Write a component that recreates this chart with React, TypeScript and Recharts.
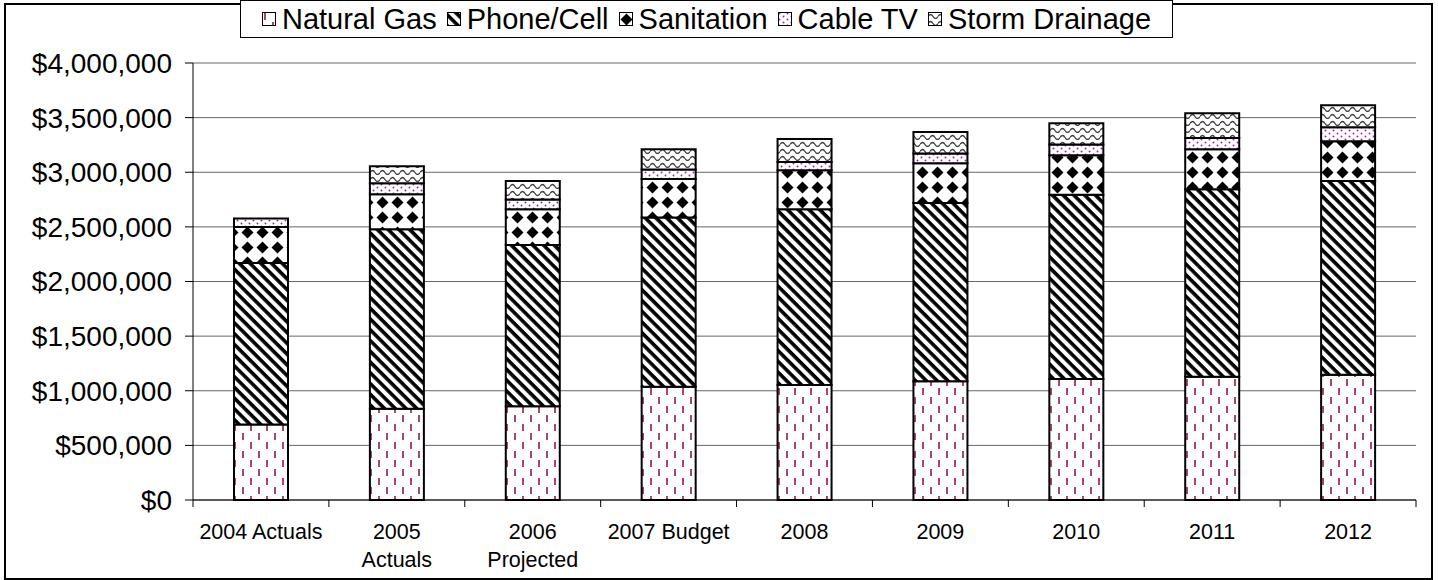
import React from 'react';
import { BarChart, Bar, XAxis, YAxis, CartesianGrid } from 'recharts';

// category labels ("\n" marks where the original label wraps)
const categories = [
  '2004 Actuals',
  '2005\nActuals',
  '2006\nProjected',
  '2007 Budget',
  '2008',
  '2009',
  '2010',
  '2011',
  '2012',
];

const naturalGas = [692000, 835000, 857000, 1036000, 1052000, 1088000, 1107000, 1128000, 1146000];
const phoneCell = [1478000, 1644000, 1478000, 1550000, 1610000, 1631000, 1686000, 1717000, 1775000];
const sanitation = [330000, 320000, 327000, 353000, 356000, 364000, 363000, 366000, 363000];
const cableTv = [77000, 101000, 88000, 86000, 76000, 88000, 97000, 103000, 128000];
const stormDrainage = [0, 155000, 171000, 186000, 211000, 198000, 195000, 226000, 201000];

const yTicks = [0, 500000, 1000000, 1500000, 2000000, 2500000, 3000000, 3500000, 4000000];

const seriesNames = ['Natural Gas', 'Phone/Cell', 'Sanitation', 'Cable TV', 'Storm Drainage'];
const seriesKeys = ['gas', 'phone', 'sanitation', 'cable', 'storm'];
const seriesFills = ['url(#pGas)', 'url(#pPhone)', 'url(#pSan)', 'url(#pCable)', 'url(#pStorm)'];

const data = categories.map((name, i) => ({
  name,
  gas: naturalGas[i],
  phone: phoneCell[i],
  sanitation: sanitation[i],
  cable: cableTv[i],
  storm: stormDrainage[i],
}));

const FONT = '"Liberation Sans", Arial, sans-serif';

const fmtMoney = (v: number) => '$' + v.toLocaleString('en-US');

const Patterns = () => (
  <defs>
    <pattern id="pGas" width={16} height={18} patternUnits="userSpaceOnUse">
      <rect width={16} height={18} fill="#fff" />
      <line x1={3} y1={1} x2={3} y2={8} stroke="#993366" strokeWidth={1.8} />
      <line x1={11} y1={10} x2={11} y2={17} stroke="#993366" strokeWidth={1.8} />
    </pattern>
    <pattern id="pPhone" width={7.6} height={7.6} patternUnits="userSpaceOnUse" patternTransform="rotate(45)">
      <rect width={7.6} height={7.6} fill="#fff" />
      <rect width={7.6} height={3.6} fill="#000" />
    </pattern>
    <pattern id="pSan" width={15} height={15} patternUnits="userSpaceOnUse">
      <rect width={15} height={15} fill="#fff" />
      <path d="M7.5 1.5 L13.5 7.5 L7.5 13.5 L1.5 7.5 Z" fill="#000" />
    </pattern>
    <pattern id="pCable" width={8} height={6} patternUnits="userSpaceOnUse">
      <rect width={8} height={6} fill="#fff" />
      <circle cx={1.5} cy={1.5} r={1} fill="#993399" />
      <circle cx={5.5} cy={4.5} r={1} fill="#993399" />
    </pattern>
    <pattern id="pStorm" width={10} height={7} patternUnits="userSpaceOnUse">
      <rect width={10} height={7} fill="#fff" />
      <path d="M0 4.5 Q2.5 0.5 5 4.5 T10 4.5" fill="none" stroke="#404040" strokeWidth={1.3} />
    </pattern>
  </defs>
);

const XTick = (props: any) => {
  const { x, y, payload, index } = props;
  const half = payload?.offset || 68;
  const lines = String(payload.value).split('\n');
  return (
    <g>
      <line x1={x - half} y1={y} x2={x - half} y2={y + 7} stroke="#000" strokeWidth={1} />
      {index === categories.length - 1 && (
        <line x1={x + half} y1={y} x2={x + half} y2={y + 7} stroke="#000" strokeWidth={1} />
      )}
      <text x={x} y={y} textAnchor="middle" fill="#000" fontSize={21.5} fontFamily={FONT}>
        {lines.map((l, i) => (
          <tspan key={i} x={x} dy={i === 0 ? 39 : 28}>
            {l}
          </tspan>
        ))}
      </text>
    </g>
  );
};

const LegendBox = () => (
  <div
    style={{
      position: 'absolute',
      left: 240,
      top: 0,
      width: 931,
      height: 36,
      border: '1px solid #000',
      background: '#fff',
      display: 'flex',
      alignItems: 'center',
      justifyContent: 'center',
      fontFamily: FONT,
      fontSize: 29,
      color: '#000',
      whiteSpace: 'nowrap',
    }}
  >
    {seriesNames.map((n, i) => (
      <span key={n} style={{ display: 'inline-flex', alignItems: 'center', marginRight: i < 4 ? 10 : 0 }}>
        <svg width={14} height={14} style={{ marginRight: 6 }}>
          <rect x={0.5} y={0.5} width={13} height={13} fill={seriesFills[i]} stroke="#000" strokeWidth={1} />
        </svg>
        {n}
      </span>
    ))}
  </div>
);

export default function App() {
  return (
    <div style={{ position: 'absolute', left: 0, top: 0, width: 1438, height: 580, background: '#fff' }}>
      <div
        style={{
          position: 'absolute',
          left: 4,
          top: 3,
          width: 1425,
          height: 573,
          border: '2px solid #000',
        }}
      />
      <BarChart
        width={1438}
        height={580}
        data={data}
        margin={{ top: 63, right: 22, bottom: 0, left: 0 }}
        barSize={54}
        style={{ position: 'absolute', left: 0, top: 0 }}
      >
        <Patterns />
        <CartesianGrid vertical={false} stroke="#666" strokeWidth={1} />
        <XAxis
          dataKey="name"
          interval={0}
          axisLine={{ stroke: '#000', strokeWidth: 1 }}
          tickLine={false}
          tickSize={0}
          tickMargin={0}
          tick={<XTick />}
          height={80}
        />
        <YAxis
          width={193}
          domain={[0, 4000000]}
          ticks={yTicks}
          tickFormatter={fmtMoney}
          axisLine={{ stroke: '#000', strokeWidth: 1 }}
          tickLine={{ stroke: '#000', strokeWidth: 1 }}
          tickSize={8}
          tickMargin={13}
          tick={{ fill: '#000', fontSize: 28, fontFamily: FONT }}
          interval={0}
        />
        <YAxis
          yAxisId="frame"
          orientation="right"
          width={0}
          tick={false}
          tickLine={false}
          axisLine={{ stroke: '#808080', strokeWidth: 2 }}
        />
        {seriesKeys.map((k, i) => (
          <Bar
            key={k}
            dataKey={k}
            name={seriesNames[i]}
            stackId="a"
            fill={seriesFills[i]}
            stroke="#000"
            strokeWidth={2}
            isAnimationActive={false}
          />
        ))}
      </BarChart>
      <LegendBox />
    </div>
  );
}
